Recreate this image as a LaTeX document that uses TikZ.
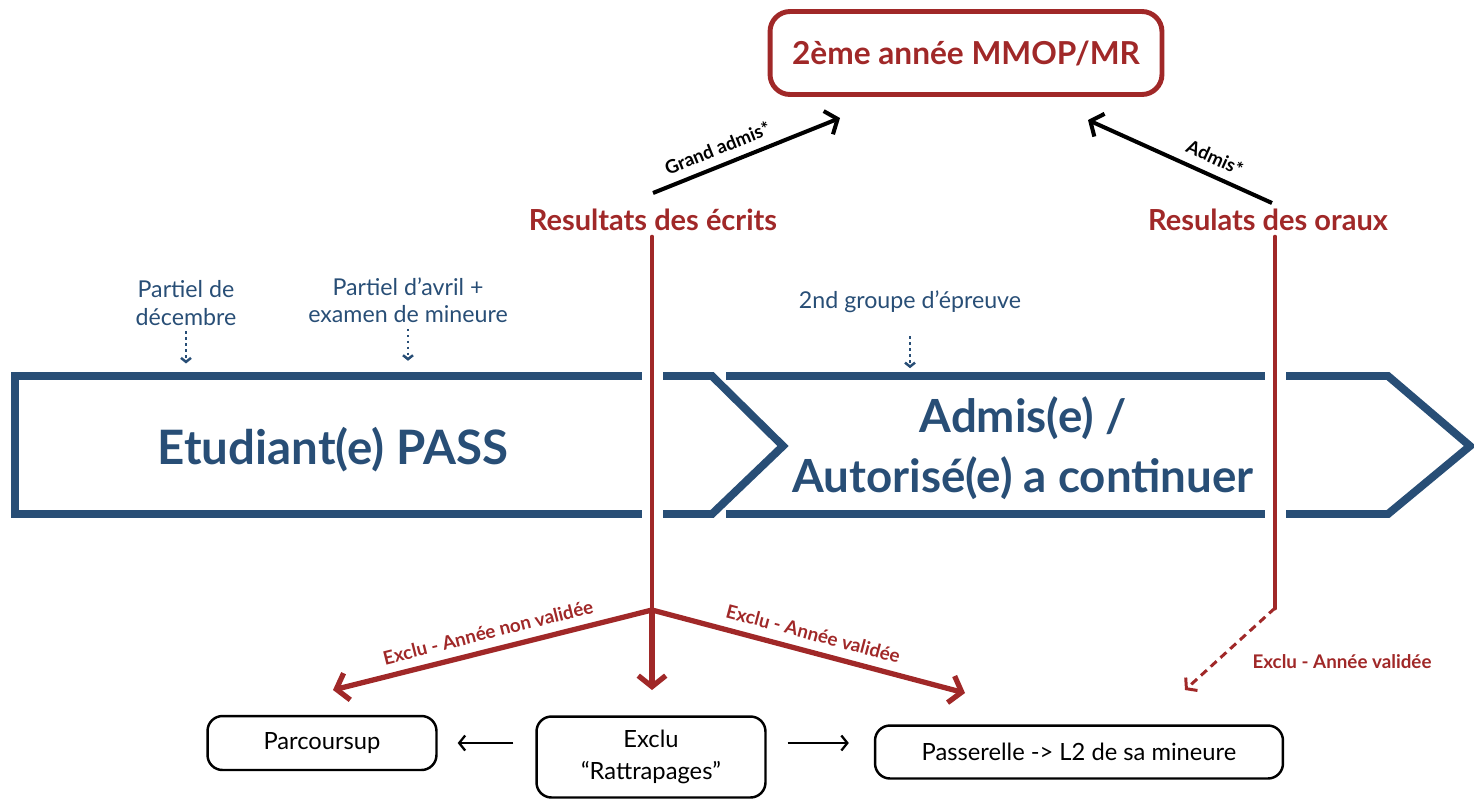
\documentclass[tikz,border=0pt]{standalone}
\usepackage{fontspec}
\setmainfont{Lato}
\usetikzlibrary{arrows.meta}
\definecolor{rouge}{RGB}{160,40,40}
\definecolor{bleu}{RGB}{40,78,118}

\begin{document}
\begin{tikzpicture}[x=0.02cm, y=-0.02cm,
	trait rouge/.style={draw=rouge, line width=2.8pt, line cap=round},
	fleche rouge/.style={draw=rouge, line width=3pt, line cap=round, -{Straight Barb[length=0.22cm,width=0.55cm]}},
	fleche noire/.style={draw=black, line width=2.3pt, -{Straight Barb[length=0.2cm,width=0.5cm]}},
	fleche fine/.style={draw=black, line width=1.3pt, -{Straight Barb[length=0.12cm,width=0.3cm]}},
	pointille/.style={draw=bleu, line width=1.4pt, dotted, -{Straight Barb[length=0.08cm,width=0.2cm]}},
	coupe/.style={preaction={draw=white, line width=0.42cm, line cap=butt}},
	petit bleu/.style={text=bleu, align=center, font=\fontsize{13.2}{15.5}\selectfont},
	titre rouge/.style={text=rouge, font=\bfseries\fontsize{16.5}{19}\selectfont},
	etiquette/.style={text=rouge, inner sep=1pt, font=\bfseries\fontsize{10.7}{12}\selectfont},
	boite/.style={draw, rounded corners=0.3cm, line width=1.4pt, align=center, font=\fontsize{13.5}{18}\selectfont}]
	\useasboundingbox (0,0) rectangle (1474,799);
	\draw[bleu, line width=4.5pt] (783,446) -- (712,376) -- (15,376) -- (15,514) -- (712,514) -- cycle;
	\draw[bleu, line width=4.5pt] (726,376) -- (1388,376) -- (1470,446) -- (1388,514) -- (726,514);
	\node[draw=rouge, line width=2.8pt, rounded corners=0.4cm, minimum width=7.84cm, minimum height=1.66cm, text=rouge, font=\bfseries\fontsize{18}{22}\selectfont] (mmop) at (966,53) {2ème année MMOP/MR};
	\node[titre rouge] (ecrits) at (653,220) {Resultats des écrits};
	\node[titre rouge] (oraux) at (1268,220) {Resulats des oraux};
	\node[petit bleu] (decembre) at (186,303) {Partiel de\\décembre};
	\node[petit bleu] (avril) at (408,300) {Partiel d’avril +\\examen de mineure};
	\node[petit bleu] (groupe) at (910,302) {2nd groupe d’épreuve};
	\node[text=bleu, font=\bfseries\fontsize{27}{34}\selectfont] (pass) at (333,450) {Etudiant(e) PASS};
	\node[text=bleu, align=center, font=\bfseries\fontsize{26}{34}\selectfont] (admis) at (1023,448) {Admis(e) /\\Autorisé(e) a continuer};
	\node[boite, minimum width=4.58cm, minimum height=1.08cm] (parcoursup) at (322,743) {Parcoursup};
	\node[boite, minimum width=4.58cm, minimum height=1.62cm] (exclu) at (651,757) {Exclu\\“Rattrapages”};
	\node[boite, minimum width=8.16cm, minimum height=1.06cm] (passerelle) at (1079,752) {Passerelle -> L2 de sa mineure};
	\node[etiquette] (validee) at (1342,662) {Exclu - Année validée};
	\coordinate (fourche) at (652,610);
	\coordinate (fourche2) at (1275,608);
	\coordinate (gauche) at (333,690);
	\coordinate (milieu) at (652,690);
	\coordinate (droite) at (965,693);
	\coordinate (bas) at (1185,690);
	\coordinate (g1) at (653,193);
	\coordinate (g2) at (840,118);
	\coordinate (a1) at (1272,203);
	\coordinate (a2) at (1088,120);
	\draw[pointille] (decembre.south) -- ++(0,32);
	\draw[pointille] (avril.south) -- ++(0,32);
	\draw[pointille, shorten <=0.34cm] (groupe.south) -- ++(0,49);
	\draw[trait rouge, coupe] (ecrits.south -| fourche) -- (fourche);
	\draw[trait rouge, coupe] (oraux.south -| fourche2) -- (fourche2);
	\draw[fleche rouge] (fourche) -- node[etiquette, sloped, above=4pt] {Exclu - Année non validée} (gauche);
	\draw[fleche rouge] (fourche) -- (milieu);
	\draw[fleche rouge] (fourche) -- node[etiquette, sloped, above=4pt] {Exclu - Année validée} (droite);
	\draw[draw=rouge, line width=1.7pt, dash pattern=on 4.5pt off 3pt, -{Straight Barb[length=0.14cm,width=0.35cm]}] (fourche2) -- (bas);
	\draw[fleche noire] (g1) -- node[sloped, above=4pt, inner sep=1pt, pos=0.38, font=\bfseries\fontsize{10.6}{12}\selectfont] {Grand admis*} (g2);
	\draw[fleche noire] (a1) -- node[sloped, above=4pt, inner sep=1pt, pos=0.35, font=\bfseries\fontsize{10.6}{12}\selectfont] {Admis*} (a2);
	\draw[fleche fine, shorten <=0.44cm, shorten >=0.4cm] (parcoursup.east -| exclu.west) -- (parcoursup.east);
	\draw[fleche fine, shorten <=0.42cm, shorten >=0.5cm] (parcoursup.east -| exclu.east) -- (parcoursup.east -| passerelle.west);
\end{tikzpicture}
\end{document}
